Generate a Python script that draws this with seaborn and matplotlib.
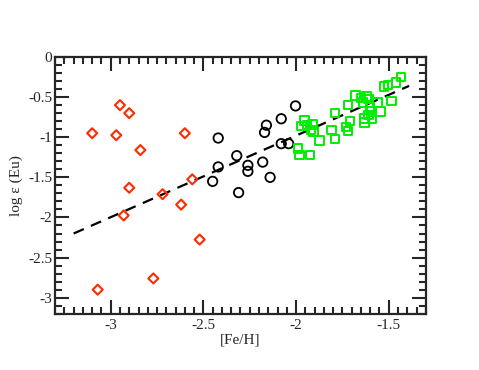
import numpy as np
import pandas as pd
import seaborn as sns
import matplotlib.pyplot as plt
from matplotlib.ticker import MultipleLocator

# red diamonds
red_feh = [-3.10, -2.95, -2.90, -2.97, -2.84, -2.60, -2.90, -2.72, -2.56, -2.62, -2.93, -2.52, -2.77, -3.07]
red_eu = [-0.95, -0.60, -0.70, -0.975, -1.16, -0.95, -1.63, -1.71, -1.525, -1.84, -1.975, -2.275, -2.76, -2.90]

# black circles
blk_feh = [-2.003, -2.08, -2.16, -2.17, -2.42, -2.08, -2.04, -2.32, -2.42, -2.26, -2.26, -2.18, -2.45, -2.14, -2.31]
blk_eu = [-0.61, -0.77, -0.85, -0.94, -1.01, -1.08, -1.08, -1.23, -1.37, -1.35, -1.425, -1.31, -1.55, -1.50, -1.69]

# green squares
grn_feh = [-1.435, -1.46, -1.505, -1.525, -1.485, -1.68, -1.65, -1.62, -1.61, -1.64, -1.56, -1.72,
           -1.60, -1.595, -1.545, -1.61, -1.59, -1.63, -1.63, -1.79, -1.71, -1.73, -1.72, -1.81,
           -1.79, -1.955, -1.97, -1.94, -1.91, -1.92, -1.905, -1.875, -1.99, -1.98, -1.925]
grn_eu = [-0.25, -0.32, -0.35, -0.37, -0.55, -0.48, -0.51, -0.49, -0.525, -0.57, -0.57, -0.60,
          -0.63, -0.68, -0.68, -0.725, -0.77, -0.77, -0.82, -0.70, -0.80, -0.87, -0.92, -0.91,
          -1.02, -0.79, -0.86, -0.85, -0.84, -0.91, -0.93, -1.04, -1.14, -1.22, -1.22]

# dashed fit line
fit_feh = [-3.20, -1.39]
fit_eu = [-2.20, -0.36]

sns.set_style("ticks")
plt.rcParams['font.family'] = ['Liberation Serif', 'DejaVu Serif']

fig = plt.figure(figsize=(4.79, 3.70), dpi=100)
ax = fig.add_axes([0.115, 0.152, 0.774, 0.694])

sns.lineplot(x=fit_feh, y=fit_eu, ax=ax, color="black", linewidth=1.6,
             linestyle=(0, (5, 3.5)), zorder=1)
sns.scatterplot(x=red_feh, y=red_eu, ax=ax, marker="D", s=26, facecolors="none",
                edgecolor="#ff2a00", linewidth=1.5, zorder=3)
sns.scatterplot(x=blk_feh, y=blk_eu, ax=ax, marker="o", s=46, facecolors="none",
                edgecolor="black", linewidth=1.3, zorder=3)
sns.scatterplot(x=grn_feh, y=grn_eu, ax=ax, marker="s", s=38, facecolors="none",
                edgecolor="#00ee00", linewidth=1.4, zorder=3)

ax.set_xlim(-3.3, -1.3)
ax.set_ylim(-3.2, 0)
ax.xaxis.set_minor_locator(MultipleLocator(0.05))
ax.yaxis.set_minor_locator(MultipleLocator(0.1))
ax.set_xticks([-3, -2.5, -2, -1.5])
ax.set_xticklabels(["-3", "-2.5", "-2", "-1.5"])
ax.set_yticks([0, -0.5, -1, -1.5, -2, -2.5, -3])
ax.set_yticklabels(["0", "-0.5", "-1", "-1.5", "-2", "-2.5", "-3"])
ax.tick_params(which="both", direction="in", top=True, right=True, labelsize=11, width=1.5)
ax.tick_params(which="major", length=10)
ax.tick_params(which="minor", length=5)
ax.tick_params(axis="x", pad=4)
ax.tick_params(axis="y", pad=2)
for sp in ax.spines.values():
    sp.set_linewidth(1.6)

ax.set_xlabel("[Fe/H]", fontsize=11, labelpad=1)
ax.set_ylabel("log ε (Eu)", fontsize=11, labelpad=4)

fig.savefig("out.png", dpi=100)
